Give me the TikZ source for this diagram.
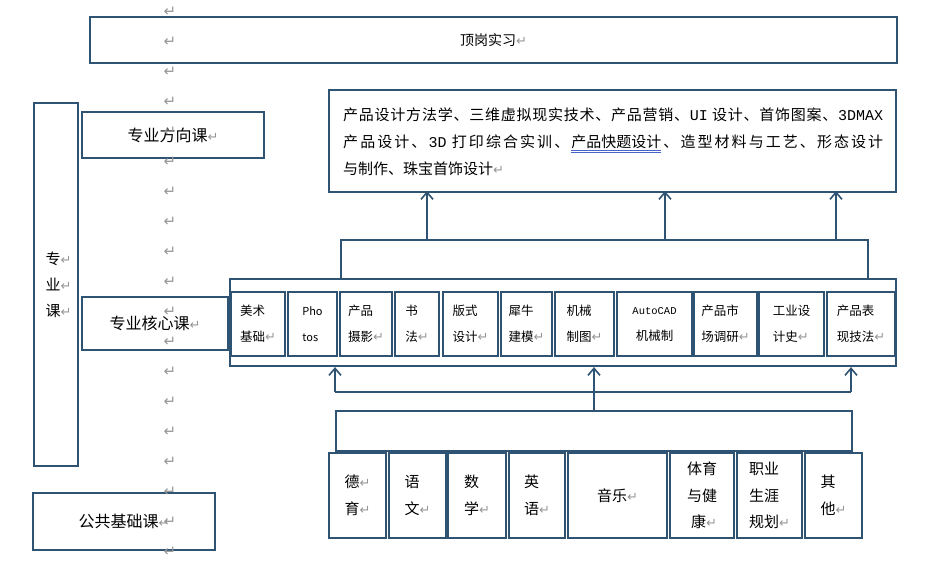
\documentclass[tikz,border=0pt]{standalone}
\usepackage{fontspec}
\setmainfont{Noto Sans CJK SC}
\newfontfamily\retfont{DejaVu Sans}
\newfontfamily\monofont{Liberation Mono}
\usetikzlibrary{arrows.meta,calc}
\definecolor{bordercol}{RGB}{47,84,115}
\definecolor{retgray}{RGB}{150,150,150}
\definecolor{ulblue}{RGB}{70,100,200}
\newcommand\retmark[1][13]{{\retfont\fontsize{#1}{#1}\selectfont\color{retgray}↵}}
\newcommand\dul[1]{\setbox0=\hbox{#1}\rlap{\textcolor{ulblue}{\rule[-3pt]{\wd0}{0.6pt}}}\rlap{\textcolor{ulblue}{\rule[-4.6pt]{\wd0}{0.6pt}}}\box0}
\def\spreadtxt#1{\spfirst#1\relax}
\def\spfirst#1{#1\spx}
\def\spx#1{\ifx#1\relax\else\hfil#1\expandafter\spx\fi}
\newcommand\jline[1]{\makebox[540pt][s]{#1}}
\tikzset{
  box/.style={draw=bordercol, line width=2.2pt, inner sep=0pt},
  lbl/.style={font=\fontsize{16}{20}\selectfont},
  cbox/.style={box, minimum height=64pt, font=\fontsize{12.5}{26}\selectfont, align=left},
  pbox/.style={box, minimum height=85pt, font=\fontsize{15}{26.5}\selectfont, align=left},
  arr/.style={draw=bordercol, line width=1.8pt, -{Straight Barb[length=7pt,width=12pt,line width=1.6pt]}},
  conn/.style={draw=bordercol, line width=2pt},
}
\begin{document}
\begin{tikzpicture}[x=1pt,y=-1pt]
\useasboundingbox (0,0) rectangle (927,567);
% left column
\node[box, minimum width=807pt, minimum height=46pt, font=\fontsize{14}{16}\selectfont] (top) at (493.5,40) {顶岗实习\retmark};
\node[box, minimum width=44pt, minimum height=363pt, font=\fontsize{15}{26}\selectfont, align=center] (prof) at (56,284.5) {\hspace*{5pt}专\retmark\\\hspace*{5pt}业\retmark\\\hspace*{5pt}课\retmark};
\node[box, minimum width=182pt, minimum height=46pt, lbl] (dir) at (173,135) {专业方向课\retmark};
\node[box, minimum width=146pt, minimum height=53pt, lbl] (core) at (155,323.5) {专业核心课\retmark};
\node[box, minimum width=182pt, minimum height=57pt, lbl] (pub) at (124,521.5) {公共基础课\retmark};
% advanced courses
\node[box, minimum width=567pt, minimum height=102pt] (adv) at (612.5,141) {};
\node[anchor=west, inner sep=0pt, font=\fontsize{15}{27}\selectfont, align=left] (advtext) at (343,142)
 {\jline{\spreadtxt{产品设计方法学、三维虚拟现实技术、产品营销、}\hfil{\monofont UI}\ \hfil\spreadtxt{设计、首饰图案、}\hfil{\monofont 3DMAX}}\\
  \jline{\spreadtxt{产品设计、}\hfil{\monofont 3D}\ \hfil\spreadtxt{打印综合实训、}\hfil\dul{产品快题设计}\hfil\spreadtxt{、造型材料与工艺、形态设计}}\\
  与制作、珠宝首饰设计\retmark};
% branch and core
\node[box, minimum width=527pt, minimum height=39pt] (branch) at (604.5,259.5) {};
\node[box, minimum width=666pt, minimum height=87pt] (coreout) at (563,322.5) {};
\node[cbox, minimum width=54pt] (m1) at (258,324) {美术\\基础\retmark};
\node[cbox, minimum width=49pt, font=\fontsize{11}{26}\selectfont] (m2) at (312.5,324) {Pho\\tos};
\node[cbox, minimum width=52pt] (m3) at (366,324) {产品\\摄影\retmark};
\node[cbox, minimum width=44pt] (m4) at (417,324) {书\\法\retmark};
\node[cbox, minimum width=55pt] (m5) at (470.5,324) {版式\\设计\retmark};
\node[cbox, minimum width=51pt] (m6) at (526.5,324) {犀牛\\建模\retmark};
\node[cbox, minimum width=59pt] (m7) at (584.5,324) {机械\\制图\retmark};
\node[cbox, minimum width=75pt, align=center] (m8) at (654.5,324) {{\monofont\fontsize{10.5}{26}\selectfont AutoCAD}\\机械制};
\node[cbox, minimum width=63pt] (m9) at (725.5,324) {产品市\\场调研\retmark};
\node[cbox, minimum width=65pt] (m10) at (791.5,324) {工业设\\计史\retmark};
\node[cbox, minimum width=68pt] (m11) at (861,324) {产品表\\现技法\retmark};
% public courses
\node[box, minimum width=516pt, minimum height=40pt] (pubout) at (594,431) {};
\node[pbox, minimum width=57pt] (p1) at (357.5,495.5) {德\retmark\\育\retmark};
\node[pbox, minimum width=57pt] (p2) at (417.5,495.5) {语\\文\retmark};
\node[pbox, minimum width=58pt] (p3) at (477,495.5) {数\\学\retmark};
\node[pbox, minimum width=56pt] (p4) at (537,495.5) {英\\语\retmark};
\node[pbox, minimum width=99pt] (p5) at (617.5,495.5) {音乐\retmark};
\node[pbox, minimum width=64pt, align=right] (p6) at (702,495.5) {体育\\与健\\康\retmark};
\node[pbox, minimum width=65pt] (p7) at (769.5,495.5) {职业\\生涯\\规划\retmark};
\node[pbox, minimum width=57pt] (p8) at (833.5,495.5) {其\\他\retmark};
% connectors
\coordinate (a1) at (427,0);
\coordinate (a2) at (665,0);
\coordinate (a3) at (836,0);
\draw[arr] (branch.north -| a1) -- ([yshift=2pt]adv.south -| a1);
\draw[arr] (branch.north -| a2) -- ([yshift=2pt]adv.south -| a2);
\draw[arr] (branch.north -| a3) -- ([yshift=2pt]adv.south -| a3);
\coordinate (bl) at (335,392);
\coordinate (br) at (851,392);
\draw[conn] (bl) -- (br);
\draw[arr] (bl) -- (bl |- coreout.south);
\draw[arr] (br) -- (br |- coreout.south);
\draw[arr] (pubout.north) -- (pubout.north |- coreout.south);
% paragraph marks column
\foreach \k in {0,...,18} \node[inner sep=0pt, name=rm\k] at (170,{12+30*\k}) {\retmark[15]};
\end{tikzpicture}
\end{document}
